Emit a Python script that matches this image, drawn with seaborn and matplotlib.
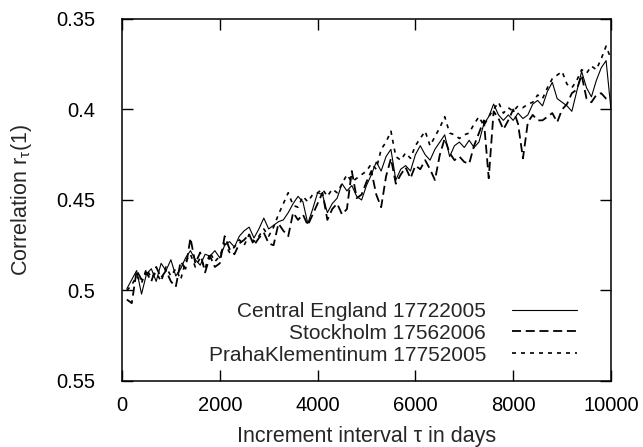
import numpy as np
import pandas as pd
import matplotlib
matplotlib.use("Agg")
import matplotlib.pyplot as plt
from matplotlib.ticker import FixedLocator, FormatStrFormatter
import seaborn as sns

# ---- data ----
days = list(range(100, 10001, 100))

central_england = [
    0.499, 0.494, 0.489, 0.502, 0.491, 0.488, 0.495, 0.485, 0.489, 0.483,
    0.492, 0.488, 0.482, 0.478, 0.483, 0.486, 0.480, 0.481, 0.478, 0.482,
    0.475, 0.473, 0.476, 0.470, 0.467, 0.465, 0.471, 0.466, 0.460, 0.466,
    0.464, 0.462, 0.461, 0.457, 0.452, 0.448, 0.451, 0.463, 0.455, 0.446,
    0.447, 0.457, 0.452, 0.449, 0.441, 0.445, 0.442, 0.448, 0.450, 0.442,
    0.436, 0.429, 0.434, 0.426, 0.422, 0.439, 0.433, 0.431, 0.434, 0.425,
    0.420, 0.425, 0.428, 0.422, 0.418, 0.414, 0.426, 0.420, 0.418, 0.421,
    0.417, 0.421, 0.418, 0.408, 0.404, 0.397, 0.403, 0.406, 0.403, 0.406,
    0.402, 0.405, 0.403, 0.397, 0.395, 0.398, 0.390, 0.385, 0.394, 0.396,
    0.398, 0.401, 0.390, 0.379, 0.388, 0.393, 0.384, 0.377, 0.373, 0.400,
]

stockholm = [
    0.505, 0.507, 0.489, 0.494, 0.490, 0.495, 0.487, 0.493, 0.489, 0.495,
    0.498, 0.484, 0.488, 0.471, 0.485, 0.479, 0.490, 0.481, 0.487, 0.485,
    0.470, 0.477, 0.480, 0.474, 0.472, 0.469, 0.475, 0.471, 0.468, 0.474,
    0.475, 0.463, 0.467, 0.470, 0.457, 0.461, 0.458, 0.464, 0.458, 0.452,
    0.446, 0.461, 0.455, 0.452, 0.458, 0.455, 0.434, 0.449, 0.447, 0.440,
    0.434, 0.447, 0.454, 0.437, 0.427, 0.441, 0.436, 0.432, 0.438, 0.431,
    0.433, 0.428, 0.433, 0.439, 0.425, 0.416, 0.424, 0.428, 0.426, 0.429,
    0.430, 0.420, 0.413, 0.406, 0.438, 0.401, 0.405, 0.411, 0.406, 0.400,
    0.408, 0.427, 0.407, 0.403, 0.406, 0.406, 0.404, 0.402, 0.407, 0.400,
    0.397, 0.391, 0.389, 0.381, 0.394, 0.396, 0.392, 0.391, 0.394, 0.395,
]

praha = [
    0.500, 0.497, 0.492, 0.496, 0.488, 0.493, 0.490, 0.495, 0.487, 0.492,
    0.488, 0.494, 0.484, 0.480, 0.487, 0.482, 0.488, 0.479, 0.484, 0.481,
    0.474, 0.479, 0.476, 0.472, 0.475, 0.469, 0.473, 0.470, 0.466, 0.470,
    0.465, 0.458, 0.452, 0.446, 0.453, 0.454, 0.448, 0.451, 0.447, 0.446,
    0.444, 0.448, 0.444, 0.446, 0.441, 0.436, 0.440, 0.438, 0.436, 0.434,
    0.430, 0.433, 0.422, 0.418, 0.412, 0.426, 0.428, 0.424, 0.427, 0.420,
    0.416, 0.412, 0.420, 0.415, 0.410, 0.404, 0.413, 0.414, 0.416, 0.414,
    0.413, 0.408, 0.404, 0.409, 0.404, 0.400, 0.396, 0.402, 0.399, 0.401,
    0.398, 0.399, 0.397, 0.396, 0.392, 0.394, 0.388, 0.383, 0.381, 0.379,
    0.386, 0.388, 0.384, 0.378, 0.380, 0.376, 0.378, 0.372, 0.365, 0.372,
]

series_names = ["Central England 17722005", "Stockholm 17562006",
                "PrahaKlementinum 17752005"]
x_ticks = [0, 2000, 4000, 6000, 8000, 10000]
y_ticks = [0.35, 0.4, 0.45, 0.5, 0.55]

# ---- style ----
sns.set_style("ticks")
plt.rcParams["font.family"] = ["Liberation Sans", "DejaVu Sans"]
plt.rcParams["mathtext.fontset"] = "custom"
plt.rcParams["mathtext.rm"] = "Liberation Sans"
plt.rcParams["mathtext.it"] = "Liberation Sans:italic"
TICK_FS = 14.5
LEG_FS = 15
LAB_FS = 15.5

fig = plt.figure(figsize=(6.43, 4.47), dpi=100)
ax = fig.add_axes([0.1897, 0.1477, 0.7605, 0.8098])

styles = [
    dict(linestyle="-", linewidth=0.8),
    dict(linestyle=(0, (5.0, 2.6)), linewidth=1.3),
    dict(linestyle=(0, (2.4, 3.0)), linewidth=1.2),
]
for name, vals, st in zip(series_names, [central_england, stockholm, praha], styles):
    df = pd.DataFrame({"days": days, "r": vals})
    sns.lineplot(data=df, x="days", y="r", ax=ax, color="black",
                 label=name, **st)

ax.set_xlim(0, 10000)
ax.set_ylim(0.55, 0.35)
ax.xaxis.set_major_locator(FixedLocator(x_ticks))
ax.yaxis.set_major_locator(FixedLocator(y_ticks))
ax.yaxis.set_major_formatter(FormatStrFormatter("%g"))
ax.tick_params(axis="both", which="both", direction="in", top=True, right=True,
               length=8, width=1.0, labelsize=TICK_FS, colors="black")
ax.tick_params(axis="x", pad=11)
ax.tick_params(axis="y", pad=19)
for sp in ax.spines.values():
    sp.set_visible(True)
    sp.set_linewidth(1.1)
    sp.set_color("black")

ax.set_xlabel("Increment interval τ in days", fontsize=LAB_FS, labelpad=8)
ax.set_ylabel(r"Correlation r$_\mathregular{τ}$(1)", fontsize=LAB_FS, labelpad=16)

leg = ax.legend(loc="lower right", bbox_to_anchor=(0.93, 0.045),
                frameon=False, fontsize=LEG_FS, markerfirst=False,
                handlelength=3.1, handletextpad=1.25, labelspacing=0.14,
                borderpad=0, borderaxespad=0)

fig.savefig("out.png", dpi=100)
